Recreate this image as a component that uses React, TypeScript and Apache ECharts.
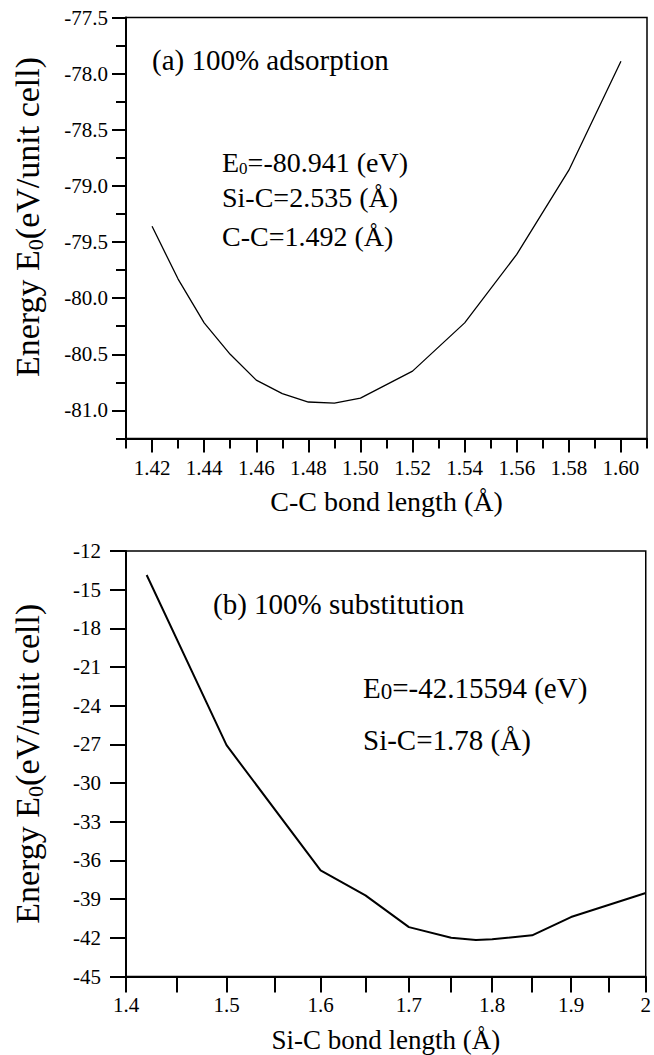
import React, { useEffect, useRef } from 'react';
import * as echarts from 'echarts';

// ---------- Data: (a) 100% adsorption ----------
const CC_BOND = [1.42, 1.43, 1.44, 1.45, 1.46, 1.47, 1.48, 1.49, 1.5, 1.52, 1.54, 1.56, 1.58, 1.6];
const CC_ENERGY = [-79.36, -79.83, -80.22, -80.5, -80.73, -80.85, -80.925, -80.935, -80.89, -80.65, -80.22, -79.61, -78.86, -77.89];
const CC_X_MAJOR = [1.42, 1.44, 1.46, 1.48, 1.5, 1.52, 1.54, 1.56, 1.58, 1.6];
const CC_X_MINOR = [1.41, 1.43, 1.45, 1.47, 1.49, 1.51, 1.53, 1.55, 1.57, 1.59, 1.61];
const CC_Y_MAJOR = [-81.0, -80.5, -80.0, -79.5, -79.0, -78.5, -78.0, -77.5];
const CC_Y_MINOR = [-81.25, -80.75, -80.25, -79.75, -79.25, -78.75, -78.25, -77.75];

// ---------- Data: (b) 100% substitution ----------
const SIC_BOND = [1.42, 1.5, 1.6, 1.65, 1.7, 1.75, 1.78, 1.8, 1.85, 1.9, 2.0];
const SIC_ENERGY = [-13.86, -27.06, -36.77, -38.71, -41.17, -41.99, -42.16, -42.12, -41.81, -40.39, -38.53];
const SIC_X_TICKS = [1.4, 1.45, 1.5, 1.55, 1.6, 1.65, 1.7, 1.75, 1.8, 1.85, 1.9, 1.95, 2.0];
const SIC_X_LABELS = [1.4, 1.5, 1.6, 1.7, 1.8, 1.9, 2.0];

const FONT = 'Liberation Serif';
const BLACK = '#000';

const lg = (v: number) => Math.log10(v);

function yNameStyle(shift: number) {
  return {
    fontSize: 34,
    fontFamily: FONT,
    color: BLACK,
    lineHeight: 38,
    padding: [0, 0, 0, shift],
    rich: {
      a: { fontSize: 34, lineHeight: 38, fontFamily: FONT, color: BLACK },
      s: { fontSize: 22, lineHeight: 22, verticalAlign: 'bottom', fontFamily: FONT, color: BLACK },
    },
  };
}

function buildOption() {
  const tickLine = { color: BLACK, width: 2 };
  const yName = '{a|Energy E}{s|0}{a|(eV/unit cell)}';
  const labelStyle = { fontSize: 21, fontFamily: FONT, color: BLACK };
  return {
    animation: false,
    backgroundColor: '#fff',
    textStyle: { fontFamily: FONT, color: BLACK },
    grid: [
      { left: 126, top: 17.5, width: 521, height: 421, show: true, borderColor: BLACK, borderWidth: 1.5, backgroundColor: 'transparent' },
      { left: 124.5, top: 551, width: 527, height: 425.5, show: true, borderColor: BLACK, borderWidth: 1.5, backgroundColor: 'transparent' },
    ],
    xAxis: [
      {
        gridIndex: 0, type: 'value', min: 1.41, max: 1.61, position: 'bottom',
        axisLine: { show: true, onZero: false, lineStyle: { color: BLACK, width: 2 } },
        axisTick: { show: true, length: 14, customValues: CC_X_MAJOR, lineStyle: tickLine },
        axisLabel: { ...labelStyle, customValues: CC_X_MAJOR, formatter: (v: number) => v.toFixed(2), margin: 19 },
        splitLine: { show: false },
        name: 'C-C bond length (Å)', nameLocation: 'middle', nameGap: 49,
        nameTextStyle: { fontSize: 28, fontFamily: FONT, color: BLACK },
      },
      {
        gridIndex: 0, type: 'value', min: 1.41, max: 1.61, position: 'bottom',
        axisLine: { show: false, onZero: false },
        axisTick: { show: true, length: 10, customValues: CC_X_MINOR, lineStyle: tickLine },
        axisLabel: { show: false },
        splitLine: { show: false },
      },
      {
        gridIndex: 1, type: 'value', min: lg(1.4), max: lg(2.0), position: 'bottom',
        axisLine: { show: true, onZero: false, lineStyle: { color: BLACK, width: 2 } },
        axisTick: { show: true, length: 16, customValues: SIC_X_TICKS.map(lg), lineStyle: tickLine },
        axisLabel: {
          ...labelStyle,
          customValues: SIC_X_LABELS.map(lg),
          formatter: (v: number) => String(Number(Math.pow(10, v).toFixed(2))),
          margin: 18,
        },
        splitLine: { show: false },
        name: 'Si-C bond length (Å)', nameLocation: 'middle', nameGap: 50,
        nameTextStyle: { fontSize: 27, fontFamily: FONT, color: BLACK },
      },
    ],
    yAxis: [
      {
        gridIndex: 0, type: 'value', min: -81.25, max: -77.5, position: 'left',
        axisLine: { show: true, onZero: false, lineStyle: { color: BLACK, width: 2 } },
        axisTick: { show: true, length: 14, customValues: CC_Y_MAJOR, lineStyle: tickLine },
        axisLabel: { ...labelStyle, customValues: CC_Y_MAJOR, formatter: (v: number) => v.toFixed(1), margin: 18 },
        splitLine: { show: false },
        name: yName, nameLocation: 'middle', nameGap: 80, nameTextStyle: yNameStyle(22),
      },
      {
        gridIndex: 0, type: 'value', min: -81.25, max: -77.5, position: 'left',
        axisLine: { show: false, onZero: false },
        axisTick: { show: true, length: 10, customValues: CC_Y_MINOR, lineStyle: tickLine },
        axisLabel: { show: false },
        splitLine: { show: false },
      },
      {
        gridIndex: 1, type: 'value', min: -45, max: -12, interval: 3, position: 'left',
        axisLine: { show: true, onZero: false, lineStyle: { color: BLACK, width: 2 } },
        axisTick: { show: true, length: 16, lineStyle: tickLine },
        axisLabel: { ...labelStyle, formatter: (v: number) => String(v), margin: 25 },
        splitLine: { show: false },
        name: yName, nameLocation: 'middle', nameGap: 80, nameTextStyle: yNameStyle(0),
      },
    ],
    series: [
      {
        type: 'line', xAxisIndex: 0, yAxisIndex: 0, symbol: 'none', silent: true,
        data: CC_BOND.map((x, i) => [x, CC_ENERGY[i]]),
        lineStyle: { color: BLACK, width: 1.3 },
      },
      {
        type: 'line', xAxisIndex: 2, yAxisIndex: 2, symbol: 'none', silent: true,
        data: SIC_BOND.map((x, i) => [lg(x), SIC_ENERGY[i]]),
        lineStyle: { color: BLACK, width: 2 },
      },
    ],
    graphic: [
      { type: 'text', x: 152, y: 60, style: { text: '(a) 100% adsorption', fontSize: 29, fontFamily: FONT, fill: BLACK, align: 'left', verticalAlign: 'middle' } },
      {
        type: 'text', x: 222, y: 162,
        style: {
          text: '{a|E}{s|0}{a|=-80.941 (eV)}', fontSize: 28, fontFamily: FONT, fill: BLACK, lineHeight: 30, align: 'left', verticalAlign: 'middle',
          rich: {
            a: { fontSize: 28, lineHeight: 30, fontFamily: FONT, fill: BLACK },
            s: { fontSize: 17, lineHeight: 16, verticalAlign: 'bottom', fontFamily: FONT, fill: BLACK },
          },
        },
      },
      { type: 'text', x: 222, y: 197.5, style: { text: 'Si-C=2.535 (Å)', fontSize: 28, fontFamily: FONT, fill: BLACK, align: 'left', verticalAlign: 'middle' } },
      { type: 'text', x: 222, y: 236, style: { text: 'C-C=1.492 (Å)', fontSize: 28, fontFamily: FONT, fill: BLACK, align: 'left', verticalAlign: 'middle' } },
      { type: 'text', x: 213, y: 603.5, style: { text: '(b) 100% substitution', fontSize: 29, fontFamily: FONT, fill: BLACK, align: 'left', verticalAlign: 'middle' } },
      {
        type: 'text', x: 363, y: 688,
        style: {
          text: '{a|E}{s|0}{a|=-42.15594 (eV)}', fontSize: 29, fontFamily: FONT, fill: BLACK, lineHeight: 30, align: 'left', verticalAlign: 'middle',
          rich: {
            a: { fontSize: 29, lineHeight: 30, fontFamily: FONT, fill: BLACK },
            s: { fontSize: 23, lineHeight: 20, verticalAlign: 'bottom', fontFamily: FONT, fill: BLACK },
          },
        },
      },
      { type: 'text', x: 363, y: 740, style: { text: 'Si-C=1.78 (Å)', fontSize: 29, fontFamily: FONT, fill: BLACK, align: 'left', verticalAlign: 'middle' } },
    ],
  };
}

export default function App() {
  const ref = useRef<HTMLDivElement>(null);
  useEffect(() => {
    if (!ref.current) return;
    const chart = echarts.init(ref.current, null, { renderer: 'svg' });
    chart.setOption(buildOption() as any);
    return () => chart.dispose();
  }, []);
  return (
    <div
      ref={ref}
      style={{ position: 'fixed', left: 0, top: 0, width: 654, height: 1055, background: '#fff' }}
    />
  );
}
